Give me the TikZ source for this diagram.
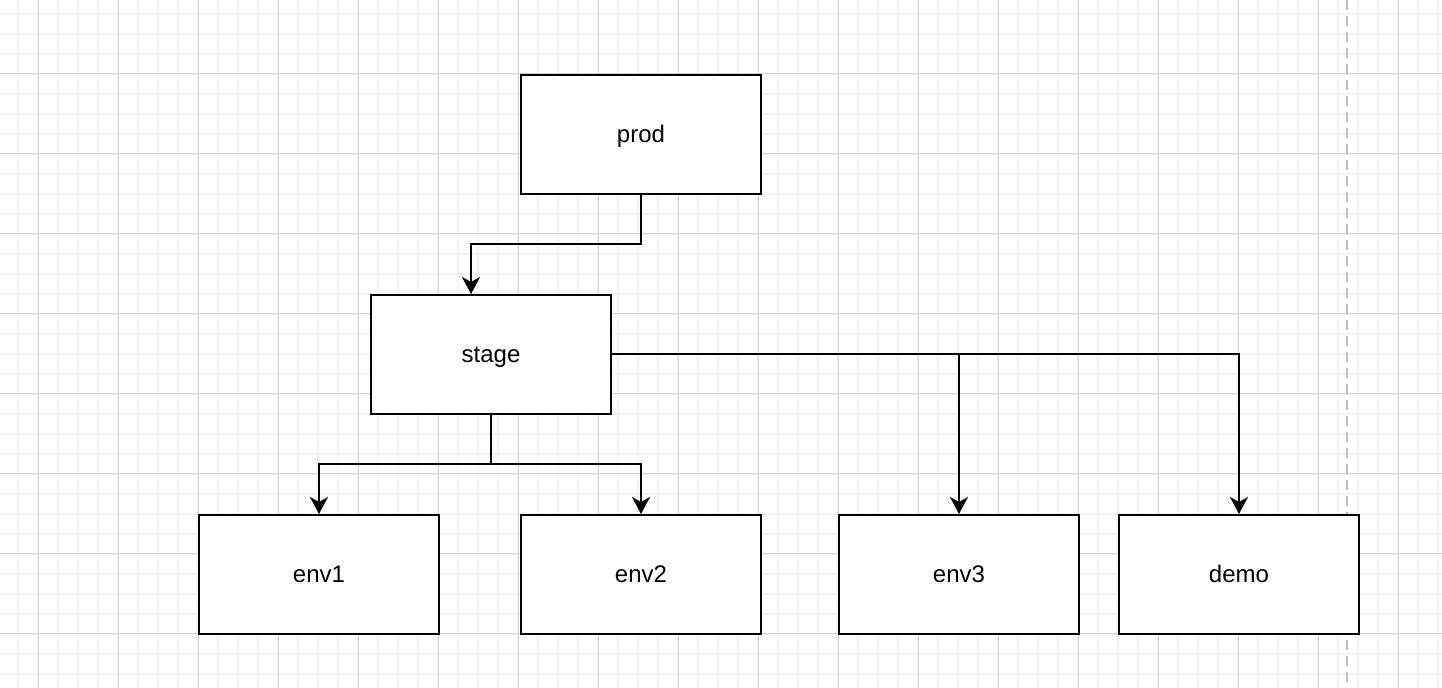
\documentclass[tikz,border=0pt]{standalone}
\usepackage{fontspec}
\setmainfont{Liberation Sans}
\usetikzlibrary{arrows.meta,positioning}

\definecolor{gridminor}{RGB}{243,243,243}
\definecolor{gridmajor}{RGB}{208,208,208}
\definecolor{pageline}{RGB}{190,190,190}

\tikzset{
    envbox/.style={draw, line width=1pt, fill=white, minimum width=120pt,
        minimum height=59.5pt, inner sep=0pt, text height=9pt, text depth=0.5pt,
        font=\fontsize{12}{14}\selectfont},
    arr/.style={-{Stealth[length=8.5pt,width=9pt,inset=2.5pt]}, line width=1pt}
}

\begin{document}
\begin{tikzpicture}[x=0.5pt, y=-0.5pt]

        \def\W{1442}
        \def\H{688}

        \useasboundingbox (0,0) rectangle (\W,\H);
        \fill [white] (0,0) rectangle (\W,\H);

        % grid
        \foreach \x in {18,38,...,1438}
            \draw [gridminor, line width=0.75pt] (\x,0) -- (\x,\H);
        \foreach \y in {14,34,...,674}
            \draw [gridminor, line width=0.75pt] (0,\y) -- (\W,\y);
        \foreach \x in {38,118,...,1398}
            \draw [gridmajor, line width=0.5pt] (\x,0) -- (\x,\H);
        \foreach \y in {74,154,...,634}
            \draw [gridmajor, line width=0.5pt] (0,\y) -- (\W,\y);

        \draw [pageline, line width=1pt, dash pattern=on 5pt off 3pt] (1347,0) -- (1347,\H);

        \node [envbox] (prod)  at (641,134.5) {prod};
        \node [envbox] (stage) at (491,354.5) {stage};
        \node [envbox] (env1)  at (319,574.5) {env1};
        \node [envbox] (env2)  at (641,574.5) {env2};
        \node [envbox] (env3)  at (959,574.5) {env3};
        \node [envbox] (demo)  at (1239,574.5) {demo};

        \coordinate (pj) at (471,244);
        \coordinate (sj) at (491,464);

        \draw [arr] (prod.south) |- (pj) -- (pj |- stage.north);
        \draw [arr] (stage.south) -- (sj) -| (env1.north);
        \draw [arr] (sj) -| (env2.north);
        \draw [arr] (stage.east) -| (demo.north);
        \draw [arr] (stage.east -| env3.north) -- (env3.north);

    \end{tikzpicture}
\end{document}
